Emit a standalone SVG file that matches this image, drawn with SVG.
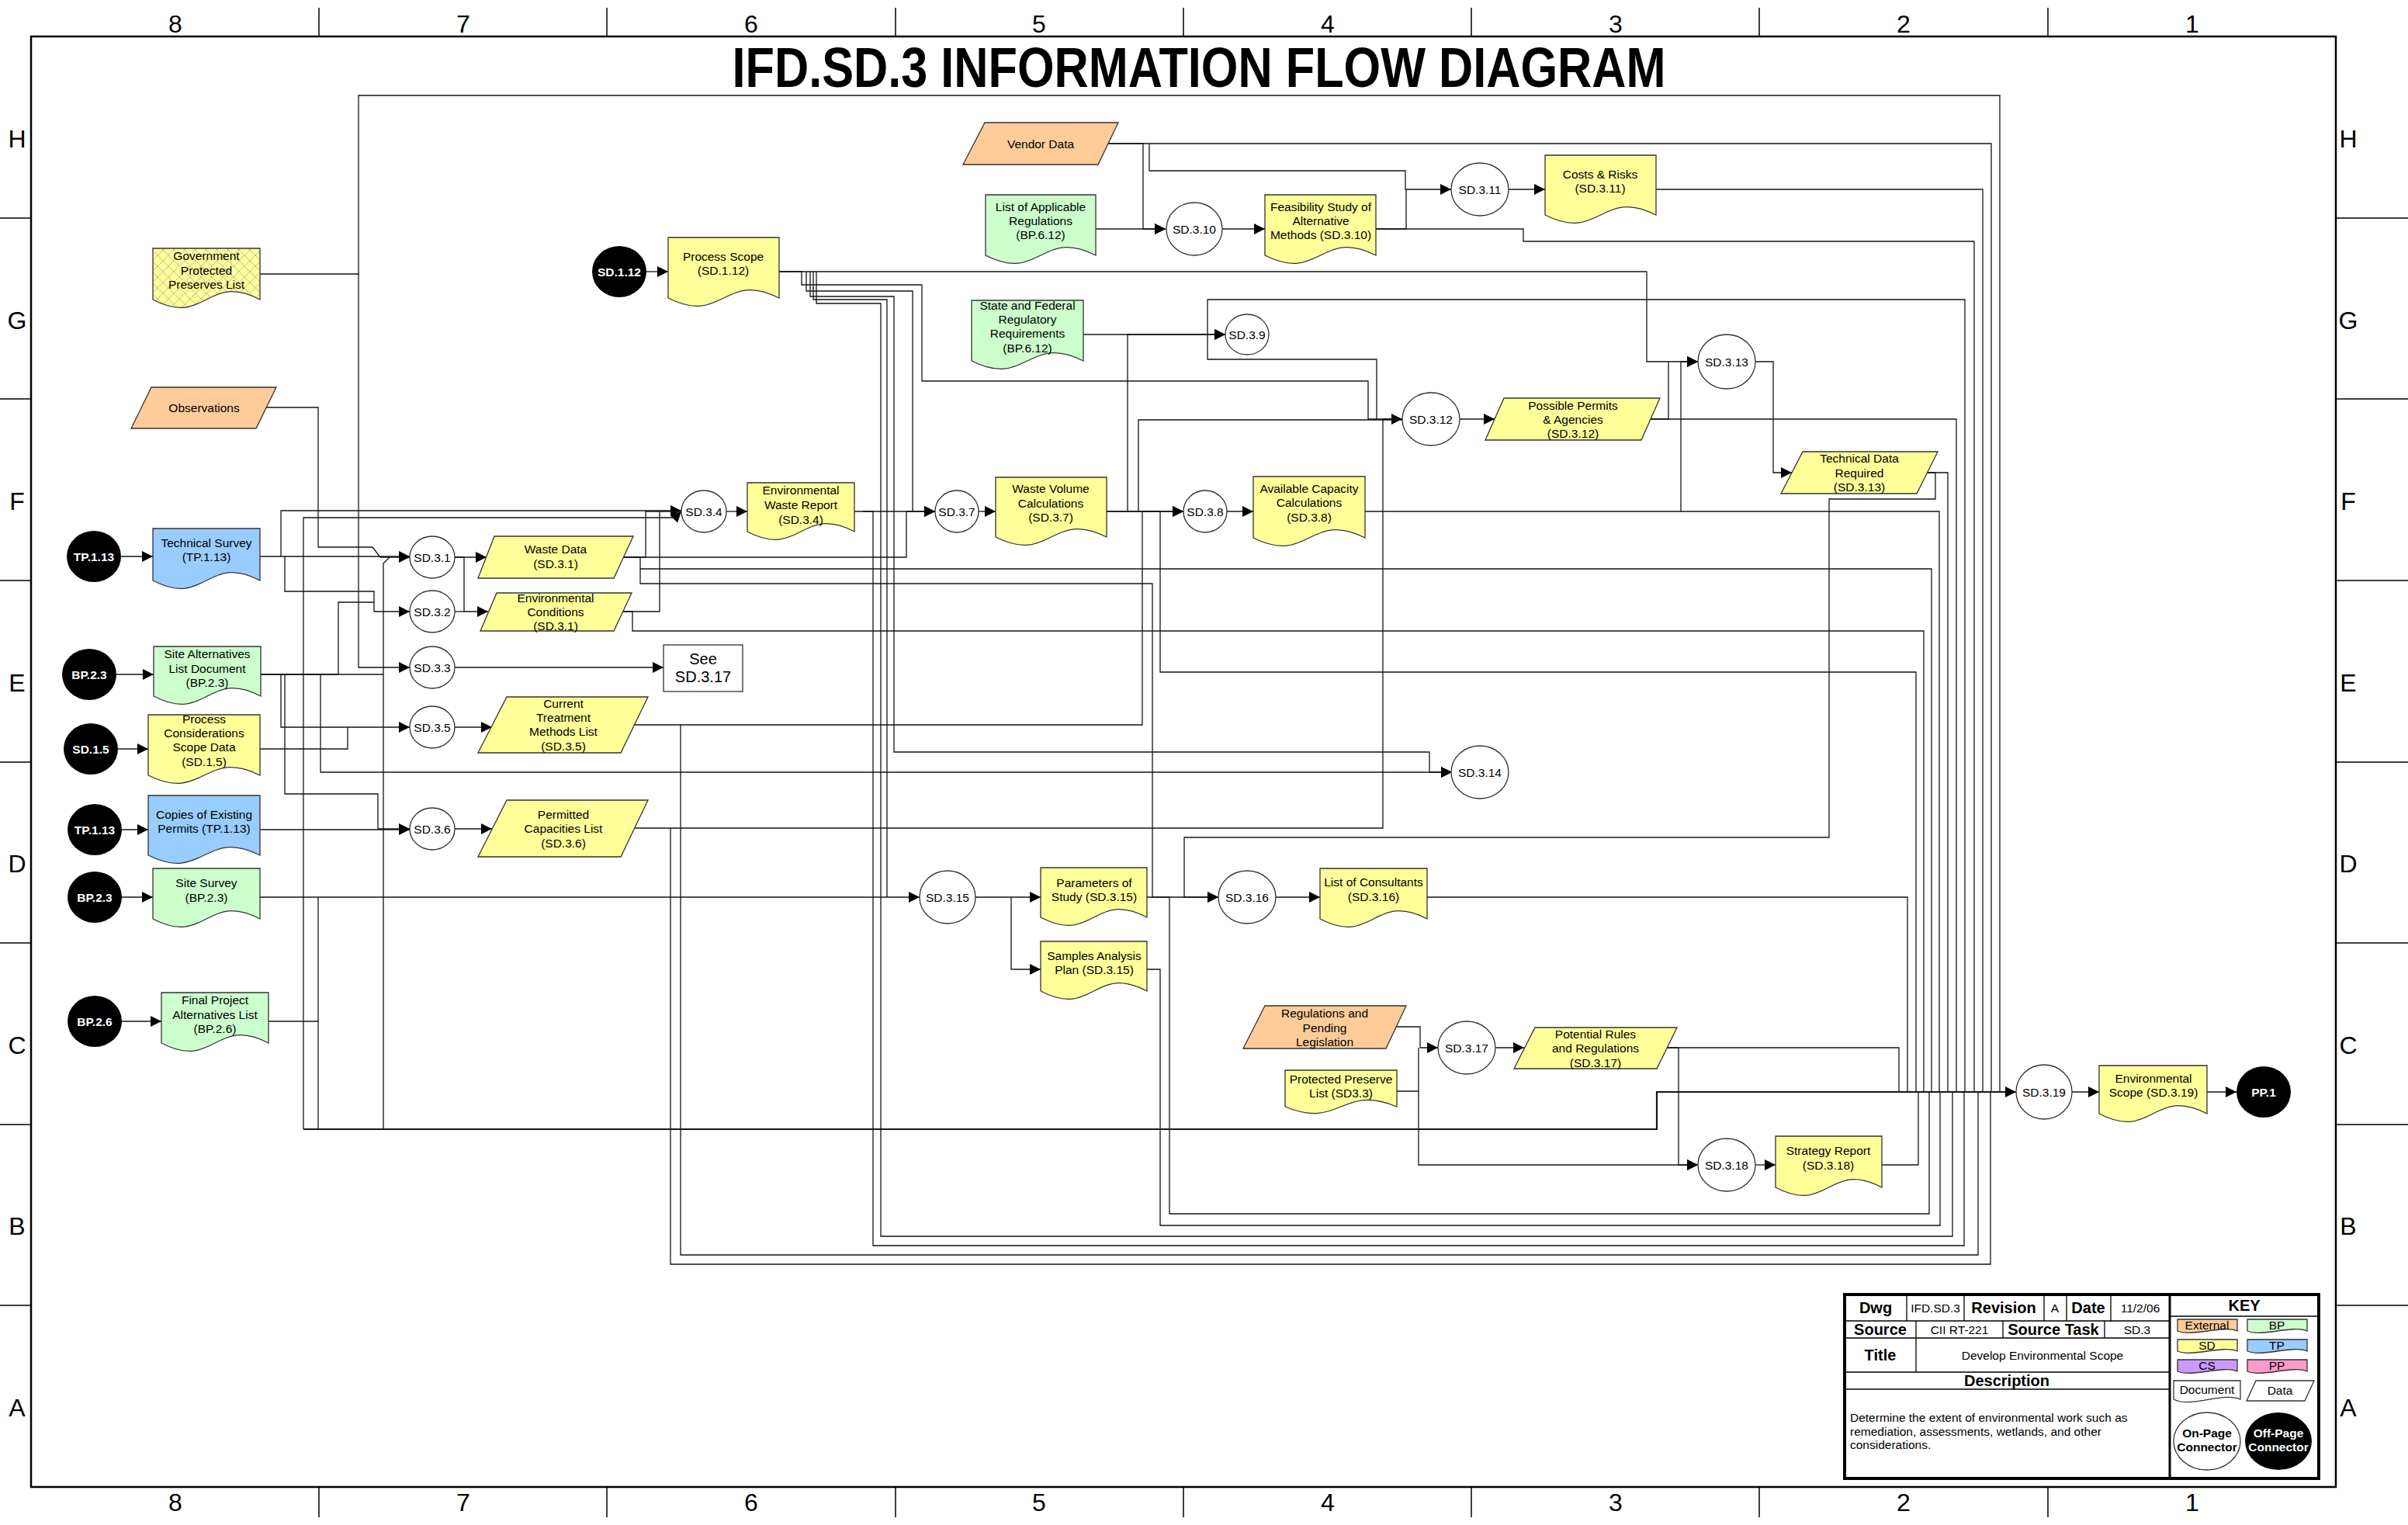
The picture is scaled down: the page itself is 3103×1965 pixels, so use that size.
<svg xmlns="http://www.w3.org/2000/svg" width="3103" height="1965" viewBox="0 0 3103 1965">
<defs>
<marker id="a" markerUnits="userSpaceOnUse" markerWidth="15" markerHeight="15" refX="14" refY="7" orient="auto"><path d="M0,0 L14,7 L0,14 Z" fill="#000"/></marker>
<pattern id="hatch" patternUnits="userSpaceOnUse" width="14" height="14"><rect width="14" height="14" fill="#FFFF99"/><path d="M0,0 L14,14 M14,0 L0,14" stroke="#b8b8a0" stroke-width="0.9"/></pattern>
<style>
text{font-family:"Liberation Sans",Arial,sans-serif;font-size:15.5px;text-anchor:middle;fill:#000}
.b{font-weight:bold}
.w{fill:#fff;font-weight:bold}
.big{font-size:20px}
.lbl{font-size:32px}
.s{stroke:#333;stroke-width:1.3}
.ext{fill:#FFCC99}.bp{fill:#CCFFCC}.sd{fill:#FFFF99}.tp{fill:#99CCFF}.cs{fill:#CC99FF}.pp{fill:#FF99CC}
.on{fill:#fff;stroke:#333;stroke-width:1.3}
.off{fill:#000}
#connectors path{fill:none;stroke:#151515;stroke-width:1.3}
#connectors path.m{marker-end:url(#a)}
#connectors path.bus{stroke-width:2.2}
.frame{fill:none;stroke:#000}
</style>
</defs>
<rect width="3103" height="1965" fill="#fff"/>

<g id="frame">
<rect class="frame" x="40" y="47" width="2970" height="1869" stroke-width="2.5"/>
<path class="frame" stroke-width="1.5" d="M411,10V47M782,10V47M1154,10V47M1525,10V47M1896,10V47M2267,10V47M2639,10V47M411,1916V1955M782,1916V1955M1154,1916V1955M1525,1916V1955M1896,1916V1955M2267,1916V1955M2639,1916V1955M0,281H40M0,514H40M0,748H40M0,982H40M0,1215H40M0,1449H40M0,1682H40M3010,281H3103M3010,514H3103M3010,748H3103M3010,982H3103M3010,1215H3103M3010,1449H3103M3010,1682H3103"/>
<g class="lbl">
<text class="lbl" x="226" y="42">8</text><text class="lbl" x="597" y="42">7</text><text class="lbl" x="968" y="42">6</text><text class="lbl" x="1339" y="42">5</text><text class="lbl" x="1711" y="42">4</text><text class="lbl" x="2082" y="42">3</text><text class="lbl" x="2453" y="42">2</text><text class="lbl" x="2825" y="42">1</text>
<text class="lbl" x="226" y="1947">8</text><text class="lbl" x="597" y="1947">7</text><text class="lbl" x="968" y="1947">6</text><text class="lbl" x="1339" y="1947">5</text><text class="lbl" x="1711" y="1947">4</text><text class="lbl" x="2082" y="1947">3</text><text class="lbl" x="2453" y="1947">2</text><text class="lbl" x="2825" y="1947">1</text>
<text class="lbl" x="22" y="190">H</text><text class="lbl" x="22" y="424">G</text><text class="lbl" x="22" y="657">F</text><text class="lbl" x="22" y="891">E</text><text class="lbl" x="22" y="1124">D</text><text class="lbl" x="22" y="1358">C</text><text class="lbl" x="22" y="1591">B</text><text class="lbl" x="22" y="1825">A</text>
<text class="lbl" x="3026" y="190">H</text><text class="lbl" x="3026" y="424">G</text><text class="lbl" x="3026" y="657">F</text><text class="lbl" x="3026" y="891">E</text><text class="lbl" x="3026" y="1124">D</text><text class="lbl" x="3026" y="1358">C</text><text class="lbl" x="3026" y="1591">B</text><text class="lbl" x="3026" y="1825">A</text>
</g>
<text class="b" x="1545" y="112" style="font-size:72px" textLength="1203" lengthAdjust="spacingAndGlyphs">IFD.SD.3 INFORMATION FLOW DIAGRAM</text>
</g>

<g id="connectors">
<path class="m" d="M832,350H861"/>
<path class="m" d="M156,717H197"/>
<path class="m" d="M150,869H198"/>
<path class="m" d="M152,965H191"/>
<path class="m" d="M157,1069H191"/>
<path class="m" d="M157,1156H197"/>
<path class="m" d="M157,1316H208"/>
<path class="m" d="M2670,1407H2705"/>
<path class="m" d="M2844,1407H2882"/>
<path class="m" d="M586,718H627"/>
<path class="m" d="M586,718H598V788H629"/>
<path d="M586,788H598"/>
<path class="m" d="M586,860H855"/>
<path class="m" d="M586,937H634"/>
<path class="m" d="M586,1068H634"/>
<path class="m" d="M936,659H963"/>
<path class="m" d="M1261,659H1283"/>
<path class="m" d="M1581,659H1615"/>
<path class="m" d="M1575,295H1630"/>
<path class="m" d="M1944,244H1991"/>
<path class="m" d="M1881,540H1926"/>
<path class="m" d="M2262,466H2285V609H2309"/>
<path class="m" d="M1257,1156H1341"/>
<path class="m" d="M1303,1156V1249H1341"/>
<path class="m" d="M1644,1156H1701"/>
<path class="m" d="M1927,1350H1964"/>
<path class="m" d="M2262,1501H2288"/>
<path class="m" d="M335,717H528"/>
<path class="m" d="M362,717V658H878"/>
<path class="m" d="M367,717V762H482V788H528"/>
<path class="m" d="M343,525H410V705H480L490,718H528"/>
<path class="m" d="M391,1455V667H870L878,659"/>
<path d="M335,353H462V123H2577V1407"/>
<path class="m" d="M462,353V860H528"/>
<path class="m" d="M336,869H362V937H528"/>
<path class="m" d="M336,869H367V1023H487V1068H528"/>
<path class="m" d="M336,869H413V995H1871"/>
<path d="M336,869H436V776H482"/>
<path d="M336,869H494"/>
<path d="M494,1455V726L502,718"/>
<path d="M335,965H448V937"/>
<path class="m" d="M335,1069H528"/>
<path class="m" d="M335,1156H1185"/>
<path d="M410,1156V1455"/>
<path d="M346,1316H410"/>
<path class="m bus" d="M391,1455H2135V1407H2598"/>
<path d="M803,718H832V659H878"/>
<path class="m" d="M803,718H1168V659H1205"/>
<path d="M803,718H825V733H2489V1407"/>
<path class="m" d="M825,733V752H1485V1156H1570"/>
<path d="M802,788H850V659"/>
<path d="M802,788H815V813H2479V1407"/>
<path d="M818,934H877V1617H2549V1407"/>
<path class="m" d="M877,934H1472V659H1525"/>
<path d="M818,1067H864V1629H2565V1407"/>
<path class="m" d="M864,1067H1782V540H1807"/>
<path class="m" d="M1101,659H1205"/>
<path d="M1112,659H1125V1605H2531V1407"/>
<path class="m" d="M1004,350H2122V466H2188"/>
<path d="M1004,350H1033V367H1188V491H1763V540H1807"/>
<path d="M1039,350V375H1176V659"/>
<path class="m" d="M1044,350V382H1152V969H1842V995H1871"/>
<path d="M1048,350V386H1143V1156"/>
<path d="M1052,350V391H1135V1593H2516V1407"/>
<path class="m" d="M1426,659H1525"/>
<path class="m" d="M1453,659V431H1579"/>
<path d="M1467,659V541H1807"/>
<path d="M1426,659H1495V866H2469V1407"/>
<path class="m" d="M1759,659H2166V466H2188"/>
<path d="M2166,659H2499V1407"/>
<path class="m" d="M1396,431H1579"/>
<path d="M1556,431V386H2532V1407"/>
<path d="M1556,431V463H1774V540"/>
<path class="m" d="M1412,295H1502"/>
<path d="M1428,185H2566V1407"/>
<path class="m" d="M1428,185H1473V295H1502"/>
<path class="m" d="M1481,185V220H1811V244H1870"/>
<path d="M1773,295H1812V244"/>
<path d="M1773,295H1963V311H2544V1407"/>
<path d="M2134,244H2555V1407"/>
<path d="M2127,540H2150V466"/>
<path d="M2127,540H2521V1407"/>
<path d="M2483,609H2510V1407"/>
<path class="m" d="M2483,609H2494V643H2357V1079H1526V1156H1570"/>
<path d="M1478,1156H1507V1564H2486V1407"/>
<path d="M1478,1249H1495V1579H2500V1407"/>
<path d="M1839,1156H2458V1407"/>
<path class="m" d="M1799,1323H1830V1350H1853"/>
<path d="M1800,1406H1828V1350"/>
<path class="m" d="M1828,1406V1501H2188"/>
<path d="M2148,1350H2447V1407"/>
<path class="m" d="M2148,1350H2163V1501H2188"/>
<path d="M2425,1501H2472V1407"/>
</g>

<g id="n-gov"><path class="s" fill="url(#hatch)" d="M197,320H335V386C266,350 266,422 197,386Z"/><text x="266" y="334.5">Government</text><text x="266" y="353.5">Protected</text><text x="266" y="371.5">Preserves List</text></g>
<g id="n-obs"><path class="s ext" d="M195,499H356L330,552H169Z"/><text x="263" y="530.5">Observations</text></g>
<g id="n-off-sd112"><ellipse class="off" cx="798" cy="350" rx="35" ry="33"/><text class="w" x="798" y="355.5">SD.1.12</text></g>
<g id="n-procscope"><path class="s sd" d="M861,306H1004V384C932.5,348 932.5,420 861,384Z"/><text x="932" y="335.5">Process Scope</text><text x="932" y="353.5">(SD.1.12)</text></g>
<g id="n-vendor"><path class="s ext" d="M1269,158H1441L1415,212H1241Z"/><text x="1341" y="190.5">Vendor Data</text></g>
<g id="n-listregs"><path class="s bp" d="M1270,251H1412V329C1341,293 1341,365 1270,329Z"/><text x="1341" y="271.5">List of Applicable</text><text x="1341" y="289.5">Regulations</text><text x="1341" y="307.5">(BP.6.12)</text></g>
<g id="n-sd310"><ellipse class="on" cx="1539" cy="295" rx="36" ry="34"/><text x="1539" y="300.5">SD.3.10</text></g>
<g id="n-feas"><path class="s sd" d="M1630,251H1773V329C1701.5,293 1701.5,365 1630,329Z"/><text x="1702" y="271.5">Feasibility Study of</text><text x="1702" y="289.5">Alternative</text><text x="1702" y="307.5">Methods (SD.3.10)</text></g>
<g id="n-sd311"><ellipse class="on" cx="1907" cy="244" rx="37" ry="34"/><text x="1907" y="249.5">SD.3.11</text></g>
<g id="n-costs"><path class="s sd" d="M1991,200H2134V277C2062.5,241 2062.5,313 1991,277Z"/><text x="2062" y="229.5">Costs &amp; Risks</text><text x="2062" y="247.5">(SD.3.11)</text></g>
<g id="n-statefed"><path class="s bp" d="M1252,387H1396V465C1324,429 1324,501 1252,465Z"/><text x="1324" y="398.5">State and Federal</text><text x="1324" y="416.5">Regulatory</text><text x="1324" y="434.5">Requirements</text><text x="1324" y="453.5">(BP.6.12)</text></g>
<g id="n-sd39"><ellipse class="on" cx="1607" cy="431" rx="28" ry="26"/><text x="1607" y="436.5">SD.3.9</text></g>
<g id="n-sd312"><ellipse class="on" cx="1844" cy="540" rx="37" ry="34"/><text x="1844" y="545.5">SD.3.12</text></g>
<g id="n-permits"><path class="s sd" d="M1938,513H2139L2115,567H1914Z"/><text x="2027" y="527.5">Possible Permits</text><text x="2027" y="545.5">&amp; Agencies</text><text x="2027" y="563.5">(SD.3.12)</text></g>
<g id="n-sd313"><ellipse class="on" cx="2225" cy="466" rx="37" ry="35"/><text x="2225" y="471.5">SD.3.13</text></g>
<g id="n-techdata"><path class="s sd" d="M2323,582H2497L2470,636H2295Z"/><text x="2396" y="595.5">Technical Data</text><text x="2396" y="614.5">Required</text><text x="2396" y="632.5">(SD.3.13)</text></g>
<g id="n-off-tp113a"><ellipse class="off" cx="121" cy="717" rx="35" ry="33"/><text class="w" x="121" y="722.5">TP.1.13</text></g>
<g id="n-techsurvey"><path class="s tp" d="M197,681H335V748C266,712 266,784 197,748Z"/><text x="266" y="704.5">Technical Survey</text><text x="266" y="722.5">(TP.1.13)</text></g>
<g id="n-sd31"><ellipse class="on" cx="557" cy="718" rx="29" ry="27"/><text x="557" y="723.5">SD.3.1</text></g>
<g id="n-wastedata"><path class="s sd" d="M637,691H816L791,745H616Z"/><text x="716" y="712.5">Waste Data</text><text x="716" y="731.5">(SD.3.1)</text></g>
<g id="n-sd32"><ellipse class="on" cx="557" cy="788" rx="29" ry="27"/><text x="557" y="793.5">SD.3.2</text></g>
<g id="n-envcond"><path class="s sd" d="M640,764H814L791,813H619Z"/><text x="716" y="775.5">Environmental</text><text x="716" y="793.5">Conditions</text><text x="716" y="811.5">(SD.3.1)</text></g>
<g id="n-sd34"><ellipse class="on" cx="907" cy="659" rx="29" ry="27"/><text x="907" y="664.5">SD.3.4</text></g>
<g id="n-ewr"><path class="s sd" d="M963,622H1101V685C1032,649 1032,721 963,685Z"/><text x="1032" y="636.5">Environmental</text><text x="1032" y="655.5">Waste Report</text><text x="1032" y="674.5">(SD.3.4)</text></g>
<g id="n-sd37"><ellipse class="on" cx="1233" cy="659" rx="28" ry="27"/><text x="1233" y="664.5">SD.3.7</text></g>
<g id="n-wastevol"><path class="s sd" d="M1283,615H1426V692C1354.5,656 1354.5,728 1283,692Z"/><text x="1354" y="634.5">Waste Volume</text><text x="1354" y="653.5">Calculations</text><text x="1354" y="671.5">(SD.3.7)</text></g>
<g id="n-sd38"><ellipse class="on" cx="1553" cy="659" rx="28" ry="27"/><text x="1553" y="664.5">SD.3.8</text></g>
<g id="n-availcap"><path class="s sd" d="M1615,614H1759V693C1687,657 1687,729 1615,693Z"/><text x="1687" y="634.5">Available Capacity</text><text x="1687" y="652.5">Calculations</text><text x="1687" y="671.5">(SD.3.8)</text></g>
<g id="n-off-bp23a"><ellipse class="off" cx="115" cy="869" rx="35" ry="33"/><text class="w" x="115" y="874.5">BP.2.3</text></g>
<g id="n-sitealt"><path class="s bp" d="M198,833H336V897C267,861 267,933 198,897Z"/><text x="267" y="847.5">Site Alternatives</text><text x="267" y="866.5">List Document</text><text x="267" y="884.5">(BP.2.3)</text></g>
<g id="n-sd33"><ellipse class="on" cx="557" cy="860" rx="29" ry="27"/><text x="557" y="865.5">SD.3.3</text></g>
<g id="n-see"><rect x="855" y="831" width="102" height="60" fill="#fff" stroke="#333" stroke-width="1.3"/><text class="big" x="906" y="856">See</text><text class="big" x="906" y="879">SD.3.17</text></g>
<g id="n-off-sd15"><ellipse class="off" cx="117" cy="965" rx="35" ry="33"/><text class="w" x="117" y="970.5">SD.1.5</text></g>
<g id="n-proccons"><path class="s sd" d="M191,921H335V999C263,963 263,1035 191,999Z"/><text x="263" y="931.5">Process</text><text x="263" y="949.5">Considerations</text><text x="263" y="967.5">Scope Data</text><text x="263" y="986.5">(SD.1.5)</text></g>
<g id="n-sd35"><ellipse class="on" cx="557" cy="937" rx="29" ry="27"/><text x="557" y="942.5">SD.3.5</text></g>
<g id="n-curtreat"><path class="s sd" d="M653,898H835L800,970H616Z"/><text x="726" y="911.5">Current</text><text x="726" y="929.5">Treatment</text><text x="726" y="947.5">Methods List</text><text x="726" y="966.5">(SD.3.5)</text></g>
<g id="n-sd314"><ellipse class="on" cx="1907" cy="995" rx="37" ry="34"/><text x="1907" y="1000.5">SD.3.14</text></g>
<g id="n-off-tp113b"><ellipse class="off" cx="122" cy="1069" rx="35" ry="33"/><text class="w" x="122" y="1074.5">TP.1.13</text></g>
<g id="n-copies"><path class="s tp" d="M191,1025H335V1102C263,1066 263,1138 191,1102Z"/><text x="263" y="1054.5">Copies of Existing</text><text x="263" y="1072.5">Permits (TP.1.13)</text></g>
<g id="n-sd36"><ellipse class="on" cx="557" cy="1068" rx="29" ry="27"/><text x="557" y="1073.5">SD.3.6</text></g>
<g id="n-permcap"><path class="s sd" d="M653,1031H835L800,1104H616Z"/><text x="726" y="1054.5">Permitted</text><text x="726" y="1072.5">Capacities List</text><text x="726" y="1091.5">(SD.3.6)</text></g>
<g id="n-off-bp23b"><ellipse class="off" cx="122" cy="1156" rx="35" ry="33"/><text class="w" x="122" y="1161.5">BP.2.3</text></g>
<g id="n-sitesurvey"><path class="s bp" d="M197,1119H335V1184C266,1148 266,1220 197,1184Z"/><text x="266" y="1142.5">Site Survey</text><text x="266" y="1161.5">(BP.2.3)</text></g>
<g id="n-sd315"><ellipse class="on" cx="1221" cy="1156" rx="36" ry="34"/><text x="1221" y="1161.5">SD.3.15</text></g>
<g id="n-params"><path class="s sd" d="M1341,1118H1478V1182C1409.5,1146 1409.5,1218 1341,1182Z"/><text x="1410" y="1142.5">Parameters of</text><text x="1410" y="1160.5">Study (SD.3.15)</text></g>
<g id="n-samples"><path class="s sd" d="M1341,1213H1478V1277C1409.5,1241 1409.5,1313 1341,1277Z"/><text x="1410" y="1236.5">Samples Analysis</text><text x="1410" y="1254.5">Plan (SD.3.15)</text></g>
<g id="n-sd316"><ellipse class="on" cx="1607" cy="1156" rx="37" ry="34"/><text x="1607" y="1161.5">SD.3.16</text></g>
<g id="n-consult"><path class="s sd" d="M1701,1119H1839V1184C1770,1148 1770,1220 1701,1184Z"/><text x="1770" y="1141.5">List of Consultants</text><text x="1770" y="1160.5">(SD.3.16)</text></g>
<g id="n-off-bp26"><ellipse class="off" cx="122" cy="1316" rx="35" ry="33"/><text class="w" x="122" y="1321.5">BP.2.6</text></g>
<g id="n-finalproj"><path class="s bp" d="M208,1279H346V1344C277,1308 277,1380 208,1344Z"/><text x="277" y="1293.5">Final Project</text><text x="277" y="1312.5">Alternatives List</text><text x="277" y="1330.5">(BP.2.6)</text></g>
<g id="n-regpend"><path class="s ext" d="M1630,1296H1812L1786,1351H1602Z"/><text x="1707" y="1310.5">Regulations and</text><text x="1707" y="1329.5">Pending</text><text x="1707" y="1347.5">Legislation</text></g>
<g id="n-protpres"><path class="s sd" d="M1656,1379H1800V1426C1728,1396 1728,1456 1656,1426Z"/><text x="1728" y="1395.5">Protected Preserve</text><text x="1728" y="1413.5">List (SD3.3)</text></g>
<g id="n-sd317"><ellipse class="on" cx="1890" cy="1350" rx="37" ry="34"/><text x="1890" y="1355.5">SD.3.17</text></g>
<g id="n-potrules"><path class="s sd" d="M1978,1324H2161L2135,1377H1951Z"/><text x="2056" y="1337.5">Potential Rules</text><text x="2056" y="1355.5">and Regulations</text><text x="2056" y="1374.5">(SD.3.17)</text></g>
<g id="n-sd318"><ellipse class="on" cx="2225" cy="1501" rx="37" ry="34"/><text x="2225" y="1506.5">SD.3.18</text></g>
<g id="n-strategy"><path class="s sd" d="M2288,1464H2425V1530C2356.5,1494 2356.5,1566 2288,1530Z"/><text x="2356" y="1487.5">Strategy Report</text><text x="2356" y="1506.5">(SD.3.18)</text></g>
<g id="n-sd319"><ellipse class="on" cx="2634" cy="1407" rx="36" ry="35"/><text x="2634" y="1412.5">SD.3.19</text></g>
<g id="n-envscope"><path class="s sd" d="M2705,1373H2844V1435C2774.5,1399 2774.5,1471 2705,1435Z"/><text x="2775" y="1394.5">Environmental</text><text x="2775" y="1412.5">Scope (SD.3.19)</text></g>
<g id="n-off-pp1"><ellipse class="off" cx="2917" cy="1407" rx="35" ry="33"/><text class="w" x="2917" y="1412.5">PP.1</text></g>

<g id="titleblock">
<rect x="2377" y="1668" width="611" height="237" fill="#fff" stroke="#000" stroke-width="4"/>
<path d="M2796,1668V1905" stroke="#000" stroke-width="3"/>
<path d="M2377,1702H2796M2377,1724H2796M2377,1768H2796M2377,1790H2796M2796,1696H2988" stroke="#000" stroke-width="1.5" fill="none"/>
<path d="M2457,1668V1702M2531,1668V1702M2634,1668V1702M2663,1668V1702M2720,1668V1702M2469,1702V1724M2581,1702V1724M2712,1702V1724M2469,1724V1768" stroke="#000" stroke-width="1.3" fill="none"/>
<text class="b big" x="2417" y="1692">Dwg</text><text x="2494" y="1691">IFD.SD.3</text><text class="b big" x="2582" y="1692">Revision</text><text x="2648" y="1691">A</text><text class="b big" x="2691" y="1692">Date</text><text x="2758" y="1691">11/2/06</text>
<text class="b big" x="2423" y="1720">Source</text><text x="2525" y="1719">CII RT-221</text><text class="b big" x="2646" y="1720">Source Task</text><text x="2754" y="1719">SD.3</text>
<text class="b big" x="2423" y="1753">Title</text><text x="2632" y="1752">Develop Environmental Scope</text>
<text class="b big" x="2586" y="1786">Description</text>
<text x="2384" y="1832" style="text-anchor:start">Determine the extent of environmental work such as</text>
<text x="2384" y="1850" style="text-anchor:start">remediation, assessments, wetlands, and other</text>
<text x="2384" y="1867" style="text-anchor:start">considerations.</text>
<text class="b big" x="2892" y="1689">KEY</text>
<path class="s ext" d="M2806,1700H2883V1715C2864,1707 2825,1723 2806,1715Z"/><text x="2844" y="1713">External</text>
<path class="s bp" d="M2896,1700H2973V1715C2954,1707 2915,1723 2896,1715Z"/><text x="2934" y="1713">BP</text>
<path class="s sd" d="M2806,1726H2883V1741C2864,1733 2825,1749 2806,1741Z"/><text x="2844" y="1739">SD</text>
<path class="s tp" d="M2896,1726H2973V1741C2954,1733 2915,1749 2896,1741Z"/><text x="2934" y="1739">TP</text>
<path class="s cs" d="M2806,1752H2883V1767C2864,1759 2825,1775 2806,1767Z"/><text x="2844" y="1765">CS</text>
<path class="s pp" d="M2896,1752H2973V1767C2954,1759 2915,1775 2896,1767Z"/><text x="2934" y="1765">PP</text>
<path class="s" fill="#fff" d="M2801,1779H2887V1803C2865,1793 2823,1815 2801,1803Z"/><text x="2844" y="1796">Document</text>
<path class="s" fill="#fff" d="M2907,1779H2982L2970,1805H2895Z"/><text x="2938" y="1797">Data</text>
<ellipse class="on" cx="2844" cy="1857" rx="43" ry="37"/><text class="b" x="2844" y="1852">On-Page</text><text class="b" x="2844" y="1870">Connector</text>
<ellipse class="off" cx="2936" cy="1857" rx="43" ry="37"/><text class="w" x="2936" y="1852">Off-Page</text><text class="w" x="2936" y="1870">Connector</text>
</g>
</svg>
